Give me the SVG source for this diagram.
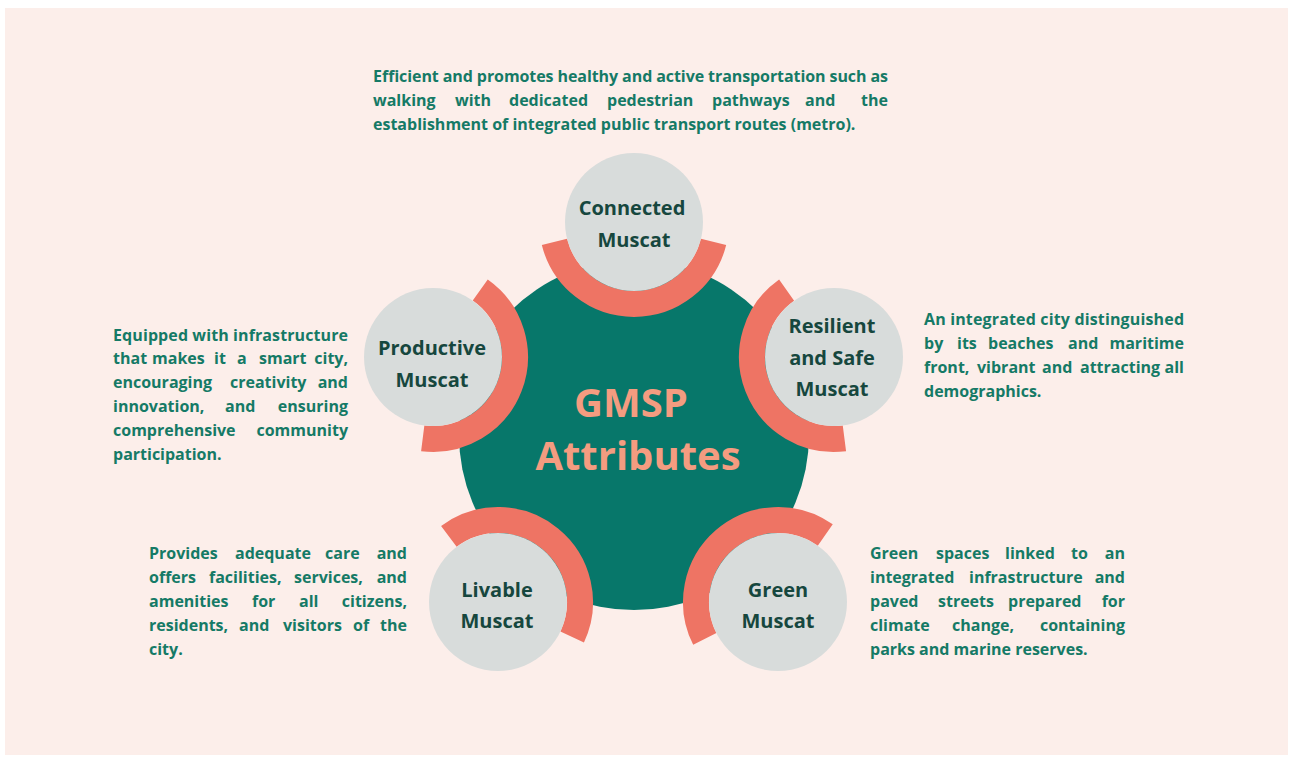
<svg xmlns="http://www.w3.org/2000/svg" width="1293" height="758" viewBox="0 0 1293 758">
<style>
.bg{fill:#FCEEEA}
.hub{fill:#07776A}
.arc{fill:none;stroke:#EE7464;stroke-width:26;stroke-linecap:butt}
.node{fill:#D8DCDB}
.lbl{font-family:"Open Sans","Noto Sans",sans-serif;font-weight:700;font-size:20px;fill:#16473E;text-anchor:middle}
.title{font-family:"Open Sans","Noto Sans",sans-serif;font-weight:700;font-size:40px;fill:#F49C80;text-anchor:middle}
.d{font-family:"Open Sans","Noto Sans",sans-serif;font-weight:700;font-size:16px;fill:#157A66}
.e{text-anchor:end}
</style>
<rect width="1293" height="758" fill="#FFFFFF"/>
<rect class="bg" x="5" y="8" width="1283" height="747"/>

<g id="hub">
<circle class="hub" cx="634" cy="435" r="175"/>
<text class="title" x="631" y="417">GMSP</text>
<text class="title" x="638" y="470">Attributes</text>
</g>

<g id="connectors">
<path class="arc" d="M 713.56 241.84 A 82 82 0 0 1 554.44 241.84"/>
<path class="arc" d="M 844.42 438.34 A 82 82 0 0 1 786.61 290.08"/>
<path class="arc" d="M 704.81 638.97 A 82 82 0 0 1 825.26 535.0"/>
<path class="arc" d="M 448.88 536.34 A 82 82 0 0 1 572.19 636.92"/>
<path class="arc" d="M 480.26 290.0 A 82 82 0 0 1 422.72 438.35"/>
</g>

<g id="connected">
<circle class="node" cx="634" cy="222" r="69"/>
<text class="lbl" x="632" y="215">Connected</text>
<text class="lbl" x="634" y="247">Muscat</text>
</g>
<g id="resilient">
<circle class="node" cx="834" cy="357" r="69"/>
<text class="lbl" x="832" y="333">Resilient</text>
<text class="lbl" x="832" y="364.5">and Safe</text>
<text class="lbl" x="832" y="396">Muscat</text>
</g>
<g id="green">
<circle class="node" cx="778" cy="602" r="69"/>
<text class="lbl" x="778" y="597">Green</text>
<text class="lbl" x="778" y="628">Muscat</text>
</g>
<g id="livable">
<circle class="node" cx="498" cy="602" r="69"/>
<text class="lbl" x="497" y="597">Livable</text>
<text class="lbl" x="497" y="628">Muscat</text>
</g>
<g id="productive">
<circle class="node" cx="433" cy="357" r="69"/>
<text class="lbl" x="432" y="355">Productive</text>
<text class="lbl" x="432" y="387">Muscat</text>
</g>

<g id="desc-connected">
<text class="d" x="373" y="82" textLength="515" lengthAdjust="spacing">Efficient and promotes healthy and active transportation such as</text>
<text class="d" y="106"><tspan x="373">walking</tspan><tspan x="455">with</tspan><tspan x="509">dedicated</tspan><tspan x="607">pedestrian</tspan><tspan x="712">pathways</tspan><tspan x="805">and</tspan></text>
<text class="d e" x="888" y="106">the</text>
<text class="d" x="373" y="130">establishment of integrated public transport routes (metro).</text>
</g>

<g id="desc-productive">
<text class="d" x="113" y="340.5" textLength="235" lengthAdjust="spacing">Equipped with infrastructure</text>
<text class="d" y="364"><tspan x="113">that</tspan><tspan x="152">makes</tspan><tspan x="214">it</tspan><tspan x="237">a</tspan><tspan x="259">smart</tspan></text>
<text class="d e" x="348" y="364">city,</text>
<text class="d" x="113" y="388">encouraging</text><text class="d" x="230" y="388">creativity</text><text class="d e" x="348" y="388">and</text>
<text class="d" x="113" y="412">innovation,</text><text class="d" x="225" y="412">and</text><text class="d e" x="348" y="412">ensuring</text>
<text class="d" x="113" y="436">comprehensive</text><text class="d e" x="348" y="436">community</text>
<text class="d" x="113" y="460">participation.</text>
</g>

<g id="desc-resilient">
<text class="d" x="924" y="324.5" textLength="260" lengthAdjust="spacing">An integrated city distinguished</text>
<text class="d" y="348.8"><tspan x="924">by</tspan><tspan x="957">its</tspan><tspan x="988">beaches</tspan><tspan x="1068">and</tspan></text>
<text class="d e" x="1184" y="348.8">maritime</text>
<text class="d" y="373"><tspan x="924">front,</tspan><tspan x="977">vibrant</tspan><tspan x="1042">and</tspan><tspan x="1080">attracting</tspan></text>
<text class="d e" x="1184" y="373">all</text>
<text class="d" x="924" y="397.3">demographics.</text>
</g>

<g id="desc-livable">
<text class="d" y="559"><tspan x="149">Provides</tspan><tspan x="235">adequate</tspan><tspan x="325">care</tspan></text>
<text class="d e" x="407" y="559">and</text>
<text class="d" y="583"><tspan x="149">offers</tspan><tspan x="209">facilities,</tspan><tspan x="294">services,</tspan></text>
<text class="d e" x="407" y="583">and</text>
<text class="d" y="607"><tspan x="149">amenities</tspan><tspan x="252">for</tspan><tspan x="299">all</tspan></text>
<text class="d e" x="407" y="607">citizens,</text>
<text class="d" y="631"><tspan x="149">residents,</tspan><tspan x="239">and</tspan><tspan x="283">visitors</tspan><tspan x="353">of</tspan></text>
<text class="d e" x="407" y="631">the</text>
<text class="d" x="149" y="655">city.</text>
</g>

<g id="desc-green">
<text class="d" y="559"><tspan x="870">Green</tspan><tspan x="936">spaces</tspan><tspan x="1005">linked</tspan><tspan x="1071">to</tspan></text>
<text class="d e" x="1125" y="559">an</text>
<text class="d" x="870" y="583">integrated</text><text class="d" x="969" y="583">infrastructure</text><text class="d e" x="1125" y="583">and</text>
<text class="d" y="607"><tspan x="870">paved</tspan><tspan x="938">streets</tspan><tspan x="1008">prepared</tspan></text>
<text class="d e" x="1125" y="607">for</text>
<text class="d" x="870" y="631">climate</text><text class="d" x="952" y="631">change,</text><text class="d e" x="1125" y="631">containing</text>
<text class="d" x="870" y="655">parks and marine reserves.</text>
</g>
</svg>
